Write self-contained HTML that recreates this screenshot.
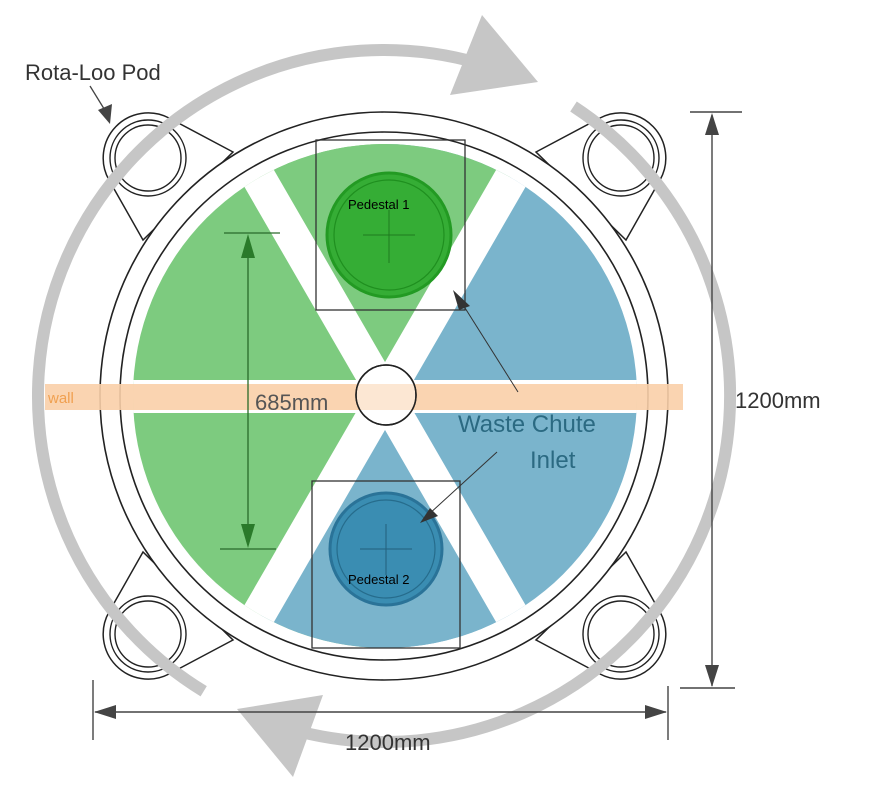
<!DOCTYPE html>
<html><head><meta charset="utf-8"><style>html,body{margin:0;padding:0;background:#fff;overflow:hidden;width:888px;height:804px}svg{display:block}</style></head>
<body>
<svg width="888" height="804" viewBox="0 0 888 804" xmlns="http://www.w3.org/2000/svg" font-family="Liberation Sans, DejaVu Sans, sans-serif">
<defs>
<clipPath id="c"><circle cx="385" cy="396" r="252"/></clipPath>
<g id="lug">
<path d="M143,240 L109,180 A45,45 0 0 1 169,118 L233,152 Z" fill="#fff" stroke="#222" stroke-width="1.5"/>
<circle cx="148" cy="158" r="38" fill="none" stroke="#222" stroke-width="1.4"/>
<circle cx="148" cy="158" r="33" fill="none" stroke="#222" stroke-width="1.4"/>
</g>
</defs>
<use href="#lug"/>
<use href="#lug" transform="translate(769,0) scale(-1,1)"/>
<use href="#lug" transform="translate(0,792) scale(1,-1)"/>
<use href="#lug" transform="translate(769,792) scale(-1,-1)"/>
<circle cx="384" cy="396" r="284" fill="#fff" stroke="#222" stroke-width="1.6"/>
<circle cx="384" cy="396" r="264" fill="#fff" stroke="#222" stroke-width="1.6"/>
<g fill="none" stroke="#c6c6c6" stroke-width="12">
<path d="M203.7,691.3 A346,346 0 0 1 479.4,63.4"/>
<path d="M573.5,106.5 A346,346 0 0 1 300.9,731.9"/>
</g>
<polygon points="482,15 538,82 450,95" fill="#c6c6c6"/>
<polygon points="237,709 323,695 293,777" fill="#c6c6c6"/>
<g clip-path="url(#c)">
<rect x="100" y="100" width="285" height="600" fill="#7dcb7f"/>
<rect x="385" y="100" width="300" height="600" fill="#7ab4cc"/>
<polygon points="385,396 100,-100 670,-100" fill="#7dcb7f"/>
<polygon points="385,396 100,900 670,900" fill="#7ab4cc"/>
<g stroke="#fff" stroke-width="34">
<line x1="230" y1="128" x2="540" y2="664"/>
<line x1="540" y1="128" x2="230" y2="664"/>
</g>
<rect x="100" y="380" width="600" height="33" fill="#fff"/>
</g>
<rect x="316" y="140" width="149" height="170" fill="none" stroke="#333" stroke-width="1.3"/>
<rect x="312" y="481" width="148" height="167" fill="none" stroke="#333" stroke-width="1.3"/>
<circle cx="389" cy="235" r="62" fill="#35ad35" stroke="#239a23" stroke-width="3"/>
<circle cx="389" cy="235" r="55" fill="none" stroke="#1f8f1f" stroke-width="1.2"/>
<path d="M363,235 H415 M389,210 V263" stroke="#1e7a1e" stroke-width="1"/>
<circle cx="386" cy="549" r="56" fill="#3a8db2" stroke="#2a7398" stroke-width="3"/>
<circle cx="386" cy="549" r="49" fill="none" stroke="#266c8c" stroke-width="1.2"/>
<path d="M360,549 H412 M386,524 V575" stroke="#22607c" stroke-width="1"/>
<text x="348" y="209" font-size="13" fill="#000">Pedestal 1</text>
<text x="348" y="584" font-size="13" fill="#000">Pedestal 2</text>
<rect x="45" y="384" width="638" height="26" fill="#f9cfa8" opacity="0.9"/>
<text x="48" y="403" font-size="15" fill="#f0a050">wall</text>
<circle cx="386" cy="395" r="30" fill="#fff" stroke="#222" stroke-width="1.5"/>
<rect x="357" y="384" width="58" height="26" fill="#f9cfa8" opacity="0.5"/>
<circle cx="386" cy="395" r="30" fill="none" stroke="#222" stroke-width="1.5"/>
<text x="255" y="410" font-size="22" fill="#555">685mm</text>
<g stroke="#2a6a2a" stroke-width="1.3">
<line x1="248" y1="240" x2="248" y2="545"/>
<line x1="224" y1="233" x2="280" y2="233"/>
<line x1="220" y1="549" x2="276" y2="549"/>
</g>
<polygon points="248,234 241,258 255,258" fill="#2a7a2a"/>
<polygon points="248,548 241,524 255,524" fill="#2a7a2a"/>
<text x="458" y="432" font-size="24" fill="#2b6a82">Waste Chute</text>
<text x="530" y="468" font-size="24" fill="#2b6a82">Inlet</text>
<g stroke="#333" stroke-width="1">
<line x1="518" y1="392" x2="460" y2="300"/>
<line x1="497" y1="452" x2="428" y2="515"/>
</g>
<polygon points="453,290 470,306 459,310" fill="#333"/>
<polygon points="420,523 430,508 438,516" fill="#333"/>
<text x="25" y="80" font-size="22" fill="#333">Rota-Loo Pod</text>
<line x1="90" y1="86" x2="106" y2="112" stroke="#444" stroke-width="1.3"/>
<polygon points="110,124 98,110 112,104" fill="#444"/>
<g stroke="#444" stroke-width="1.4">
<line x1="712" y1="115" x2="712" y2="686"/>
<line x1="690" y1="112" x2="742" y2="112"/>
<line x1="680" y1="688" x2="735" y2="688"/>
<line x1="95" y1="712" x2="666" y2="712"/>
<line x1="93" y1="680" x2="93" y2="740"/>
<line x1="668" y1="686" x2="668" y2="740"/>
</g>
<polygon points="712,113 705,135 719,135" fill="#444"/>
<polygon points="712,687 705,665 719,665" fill="#444"/>
<polygon points="94,712 116,705 116,719" fill="#444"/>
<polygon points="667,712 645,705 645,719" fill="#444"/>
<text x="735" y="408" font-size="22" fill="#333">1200mm</text>
<text x="345" y="750" font-size="22" fill="#333">1200mm</text>
</svg>
</body></html>
